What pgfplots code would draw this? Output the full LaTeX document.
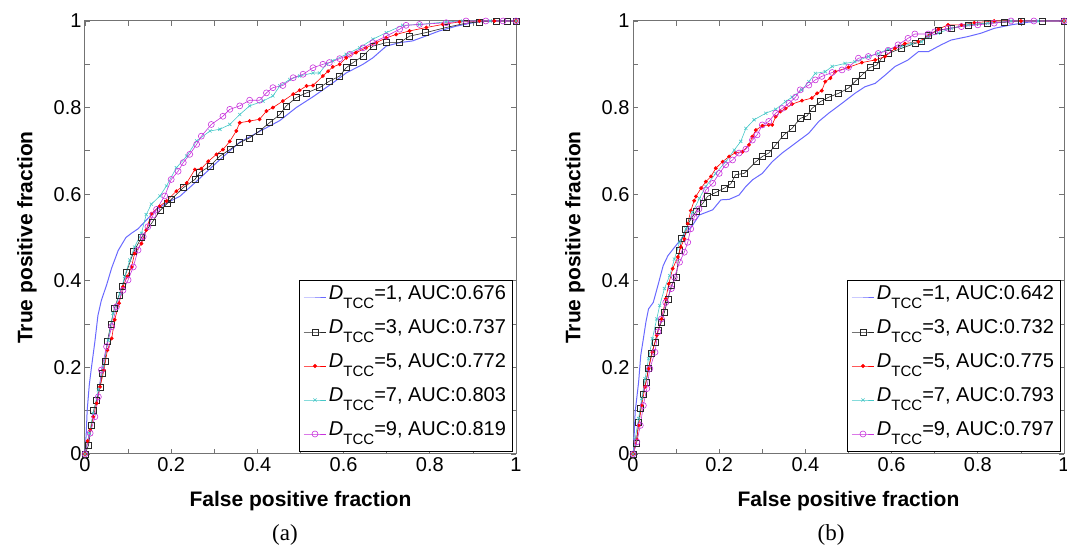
\documentclass[border=0pt]{standalone}
\usepackage{fontspec}
\setmainfont{Liberation Sans}
\newfontfamily\capfont{Liberation Serif}
\usepackage{pgfplots}
\pgfplotsset{compat=1.18}

\definecolor{cblue}{RGB}{105,105,255}
\definecolor{cgray}{RGB}{40,40,40}
\definecolor{ccyan}{RGB}{70,200,200}
\definecolor{cmag}{RGB}{200,50,220}

\newcommand{\dtcc}[1]{\textit{D}\raisebox{-0.45em}{\fontsize{15}{15}\selectfont TCC}=#1}

\pgfplotsset{
  legend image code/.code={\draw[mark repeat=2,mark phase=2,#1] plot coordinates {(0pt,0pt) (11pt,0pt) (22pt,0pt)};},
  rocax/.style={
    scale only axis, width=431pt, height=433pt,
    xmin=0, xmax=1, ymin=0, ymax=1,
    xtick={0,0.1,0.2,0.3,0.4,0.5,0.6,0.7,0.8,0.9,1},
    xticklabels={0,,0.2,,0.4,,0.6,,0.8,,1},
    ytick={0,0.1,0.2,0.3,0.4,0.5,0.6,0.7,0.8,0.9,1},
    yticklabels={0,,0.2,,0.4,,0.6,,0.8,,1},
    tick pos=both, tick align=inside, major tick length=5pt,
    axis line style={black!55, line width=1pt},
    tick style={black!55, line width=0.8pt},
    ticklabel style={font=\fontsize{20}{24}\selectfont},
    /pgf/number format/assume math mode=true,
    label style={font=\bfseries\fontsize{21}{25}\selectfont},
    xlabel={False positive fraction}, ylabel={True positive fraction},
    xlabel style={at={(axis description cs:0.5,0)}, anchor=center, yshift=-47pt},
    ylabel style={at={(axis description cs:-0.1346,0.5)}, anchor=center},
    legend cell align=left,
    legend style={at={(1,0)}, anchor=south east, xshift=-3pt, yshift=2pt,
      draw=black, line width=1pt, font=\fontsize{20}{24}\selectfont,
      nodes={text height=16pt, text depth=12pt, inner sep=2.5pt},
      row sep=1pt, inner xsep=4pt, inner ysep=1pt},
    c1/.style={cblue, line width=1pt},
    c3/.style={cgray, line width=0.6pt, mark=square, mark size=3pt, mark options={solid, line width=0.6pt}},
    c5/.style={red, line width=0.6pt, mark=*, mark size=1.6pt},
    c7/.style={ccyan, line width=0.6pt, mark=x, mark size=2.2pt},
    c9/.style={cmag, line width=0.6pt, mark=o, mark size=3pt, mark options={line width=0.6pt}},
  }
}

\begin{document}
\begin{tikzpicture}
\useasboundingbox (0,0) rectangle (1067pt,548pt);

% (a)
\begin{axis}[rocax, at={(85pt,94pt)}, anchor=south west]
\addplot[c1] coordinates {(0,0) (0.003,0.05) (0.005,0.1) (0.01,0.16) (0.015,0.2) (0.023,0.26) (0.03,0.32) (0.038,0.355) (0.05,0.39) (0.062,0.43) (0.077,0.47) (0.095,0.5) (0.108,0.51) (0.123,0.52) (0.142,0.54) (0.166,0.565) (0.19,0.58) (0.22,0.595) (0.259,0.63) (0.313,0.68) (0.359,0.72) (0.405,0.745) (0.452,0.77) (0.49,0.80) (0.529,0.825) (0.575,0.857) (0.606,0.88) (0.645,0.9) (0.668,0.915) (0.699,0.942) (0.73,0.95) (0.76,0.954) (0.79,0.965) (0.822,0.977) (0.861,0.988) (0.9,0.996) (0.93,1) (1,1)};
\addlegendentry{\dtcc{1}, AUC:0.676}
\addplot[c3] coordinates {(0,0) (0.008,0.02) (0.015,0.067) (0.02,0.1) (0.027,0.125) (0.035,0.155) (0.04,0.186) (0.046,0.213) (0.052,0.26) (0.06,0.3) (0.068,0.336) (0.079,0.367) (0.087,0.388) (0.096,0.42) (0.113,0.467) (0.131,0.5) (0.156,0.535) (0.174,0.562) (0.19,0.578) (0.2,0.588) (0.228,0.615) (0.255,0.634) (0.266,0.65) (0.29,0.665) (0.313,0.688) (0.336,0.703) (0.359,0.719) (0.382,0.73) (0.405,0.746) (0.428,0.765) (0.452,0.784) (0.467,0.804) (0.49,0.823) (0.514,0.834) (0.544,0.846) (0.567,0.861) (0.591,0.873) (0.606,0.892) (0.622,0.904) (0.645,0.919) (0.668,0.942) (0.699,0.95) (0.73,0.95) (0.753,0.965) (0.79,0.973) (0.838,0.985) (0.884,0.995) (0.915,0.998) (0.955,1) (0.98,1) (1,1)};
\addlegendentry{\dtcc{3}, AUC:0.737}
\addplot[c5] coordinates {(0,0) (0.006,0.03) (0.012,0.055) (0.019,0.086) (0.027,0.117) (0.035,0.155) (0.044,0.194) (0.052,0.24) (0.062,0.267) (0.069,0.31) (0.079,0.348) (0.088,0.386) (0.098,0.41) (0.108,0.432) (0.115,0.463) (0.131,0.486) (0.142,0.517) (0.154,0.555) (0.173,0.572) (0.189,0.584) (0.212,0.607) (0.236,0.626) (0.255,0.657) (0.27,0.659) (0.286,0.676) (0.305,0.692) (0.32,0.703) (0.336,0.722) (0.351,0.746) (0.359,0.765) (0.382,0.769) (0.405,0.773) (0.421,0.792) (0.436,0.8) (0.459,0.815) (0.483,0.831) (0.498,0.84) (0.514,0.85) (0.529,0.851) (0.552,0.873) (0.564,0.884) (0.575,0.894) (0.591,0.9) (0.606,0.915) (0.629,0.927) (0.652,0.938) (0.676,0.95) (0.699,0.961) (0.722,0.969) (0.753,0.977) (0.792,0.985) (0.83,0.992) (0.869,0.998) (0.915,1) (0.95,1) (1,1)};
\addlegendentry{\dtcc{5}, AUC:0.772}
\addplot[c7] coordinates {(0,0) (0.01,0.048) (0.019,0.094) (0.031,0.148) (0.042,0.2) (0.054,0.263) (0.065,0.325) (0.081,0.37) (0.092,0.41) (0.104,0.448) (0.115,0.478) (0.131,0.51) (0.142,0.553) (0.154,0.577) (0.174,0.596) (0.189,0.619) (0.212,0.661) (0.236,0.688) (0.259,0.723) (0.29,0.746) (0.313,0.75) (0.336,0.761) (0.359,0.784) (0.382,0.804) (0.413,0.815) (0.436,0.827) (0.452,0.85) (0.475,0.865) (0.498,0.873) (0.529,0.88) (0.544,0.88) (0.56,0.9) (0.575,0.908) (0.606,0.923) (0.637,0.938) (0.668,0.958) (0.699,0.973) (0.737,0.99) (0.776,0.992) (0.838,0.998) (0.876,1) (0.94,1) (1,1)};
\addlegendentry{\dtcc{7}, AUC:0.803}
\addplot[c9] coordinates {(0,0) (0.012,0.048) (0.023,0.086) (0.031,0.132) (0.038,0.194) (0.05,0.248) (0.062,0.294) (0.073,0.34) (0.088,0.378) (0.1,0.402) (0.112,0.432) (0.123,0.471) (0.135,0.502) (0.146,0.525) (0.158,0.552) (0.166,0.565) (0.185,0.596) (0.2,0.634) (0.216,0.653) (0.228,0.673) (0.243,0.692) (0.259,0.715) (0.27,0.734) (0.293,0.761) (0.32,0.78) (0.336,0.796) (0.359,0.804) (0.382,0.817) (0.405,0.817) (0.421,0.834) (0.436,0.846) (0.459,0.851) (0.483,0.869) (0.506,0.877) (0.529,0.892) (0.552,0.9) (0.567,0.904) (0.591,0.913) (0.614,0.923) (0.645,0.938) (0.668,0.95) (0.699,0.965) (0.73,0.981) (0.745,0.99) (0.776,0.992) (0.838,0.996) (0.884,1) (0.93,1) (0.97,1) (1,1)};
\addlegendentry{\dtcc{9}, AUC:0.819}
\end{axis}

% (b)
\begin{axis}[rocax, at={(633pt,94pt)}, anchor=south west]
\addplot[c1] coordinates {(0,0) (0.003,0.05) (0.005,0.097) (0.013,0.166) (0.018,0.228) (0.024,0.266) (0.03,0.305) (0.036,0.335) (0.047,0.35) (0.058,0.39) (0.07,0.435) (0.081,0.458) (0.1,0.482) (0.119,0.505) (0.138,0.528) (0.154,0.552) (0.185,0.564) (0.204,0.587) (0.223,0.588) (0.246,0.598) (0.262,0.618) (0.277,0.633) (0.3,0.648) (0.323,0.675) (0.346,0.695) (0.377,0.718) (0.408,0.741) (0.431,0.768) (0.454,0.787) (0.485,0.81) (0.515,0.833) (0.538,0.848) (0.562,0.856) (0.585,0.875) (0.608,0.895) (0.638,0.91) (0.662,0.929) (0.685,0.929) (0.715,0.945) (0.738,0.956) (0.777,0.964) (0.808,0.972) (0.838,0.983) (0.877,0.991) (0.915,0.997) (0.954,1) (1,1)};
\addlegendentry{\dtcc{1}, AUC:0.642}
\addplot[c3] coordinates {(0,0) (0.008,0.024) (0.013,0.074) (0.018,0.105) (0.023,0.139) (0.03,0.166) (0.036,0.197) (0.043,0.232) (0.051,0.258) (0.058,0.285) (0.066,0.305) (0.073,0.328) (0.081,0.358) (0.089,0.389) (0.1,0.408) (0.108,0.47) (0.113,0.497) (0.122,0.518) (0.131,0.537) (0.146,0.56) (0.162,0.579) (0.173,0.595) (0.192,0.604) (0.212,0.614) (0.227,0.624) (0.238,0.645) (0.258,0.648) (0.285,0.675) (0.3,0.687) (0.315,0.695) (0.331,0.714) (0.35,0.737) (0.369,0.752) (0.388,0.775) (0.404,0.781) (0.415,0.798) (0.435,0.814) (0.454,0.824) (0.477,0.833) (0.5,0.845) (0.515,0.86) (0.531,0.875) (0.55,0.893) (0.565,0.898) (0.577,0.914) (0.592,0.925) (0.623,0.937) (0.654,0.948) (0.669,0.952) (0.685,0.968) (0.708,0.979) (0.738,0.983) (0.777,0.991) (0.823,0.995) (0.862,0.997) (0.9,1) (0.95,1) (1,1)};
\addlegendentry{\dtcc{3}, AUC:0.732}
\addplot[c5] coordinates {(0,0) (0.008,0.035) (0.013,0.066) (0.02,0.112) (0.028,0.155) (0.036,0.197) (0.045,0.235) (0.055,0.274) (0.066,0.312) (0.076,0.358) (0.083,0.393) (0.092,0.428) (0.104,0.455) (0.111,0.478) (0.119,0.497) (0.127,0.532) (0.134,0.562) (0.142,0.585) (0.146,0.595) (0.158,0.614) (0.169,0.629) (0.181,0.641) (0.192,0.66) (0.208,0.675) (0.223,0.687) (0.238,0.696) (0.254,0.698) (0.269,0.714) (0.277,0.733) (0.285,0.748) (0.3,0.758) (0.315,0.76) (0.323,0.76) (0.331,0.779) (0.342,0.791) (0.354,0.798) (0.369,0.808) (0.392,0.816) (0.415,0.822) (0.427,0.833) (0.438,0.839) (0.446,0.86) (0.458,0.868) (0.469,0.883) (0.5,0.893) (0.531,0.904) (0.562,0.91) (0.585,0.918) (0.608,0.937) (0.631,0.948) (0.662,0.952) (0.685,0.965) (0.708,0.981) (0.731,0.991) (0.762,0.991) (0.792,0.996) (0.838,1) (0.9,1) (1,1)};
\addlegendentry{\dtcc{5}, AUC:0.775}
\addplot[c7] coordinates {(0,0) (0.005,0.035) (0.013,0.082) (0.02,0.128) (0.028,0.174) (0.036,0.22) (0.045,0.266) (0.055,0.312) (0.062,0.343) (0.073,0.382) (0.085,0.412) (0.096,0.45) (0.108,0.489) (0.123,0.52) (0.138,0.558) (0.154,0.59) (0.169,0.618) (0.192,0.648) (0.215,0.675) (0.235,0.702) (0.25,0.722) (0.262,0.752) (0.281,0.772) (0.308,0.787) (0.331,0.796) (0.354,0.814) (0.369,0.824) (0.392,0.841) (0.408,0.86) (0.423,0.879) (0.446,0.883) (0.462,0.895) (0.492,0.902) (0.515,0.906) (0.546,0.918) (0.569,0.925) (0.592,0.935) (0.623,0.941) (0.646,0.948) (0.669,0.952) (0.685,0.964) (0.708,0.972) (0.738,0.983) (0.777,0.991) (0.823,0.995) (0.877,1) (0.94,1) (1,1)};
\addlegendentry{\dtcc{7}, AUC:0.793}
\addplot[c9] coordinates {(0,0) (0.009,0.028) (0.017,0.066) (0.024,0.112) (0.032,0.151) (0.039,0.197) (0.051,0.235) (0.058,0.282) (0.066,0.312) (0.076,0.35) (0.089,0.382) (0.096,0.408) (0.108,0.443) (0.119,0.466) (0.127,0.489) (0.134,0.52) (0.142,0.547) (0.153,0.566) (0.169,0.61) (0.185,0.625) (0.2,0.648) (0.215,0.668) (0.231,0.679) (0.246,0.695) (0.262,0.704) (0.277,0.725) (0.288,0.737) (0.3,0.76) (0.315,0.768) (0.331,0.787) (0.346,0.798) (0.362,0.81) (0.377,0.824) (0.388,0.841) (0.408,0.852) (0.423,0.864) (0.438,0.872) (0.462,0.881) (0.485,0.887) (0.5,0.893) (0.523,0.914) (0.546,0.918) (0.569,0.925) (0.592,0.932) (0.615,0.945) (0.638,0.96) (0.654,0.97) (0.685,0.97) (0.7,0.975) (0.731,0.983) (0.762,0.987) (0.8,0.991) (0.838,0.995) (0.877,1) (0.93,1) (1,1)};
\addlegendentry{\dtcc{9}, AUC:0.797}
\end{axis}

\node[font=\capfont\fontsize{23}{26}\selectfont] at (285pt,13pt) {(a)};
\node[font=\capfont\fontsize{23}{26}\selectfont] at (831pt,13pt) {(b)};
\end{tikzpicture}
\end{document}
